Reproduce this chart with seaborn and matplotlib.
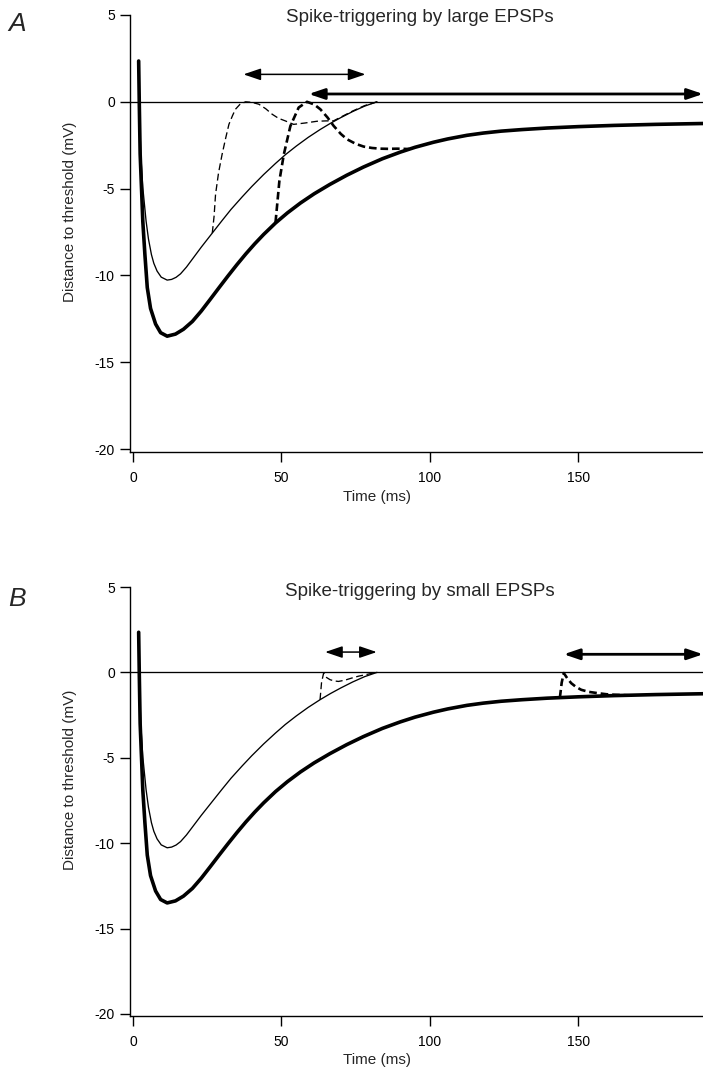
import matplotlib
matplotlib.use("Agg")
import matplotlib.pyplot as plt
import seaborn as sns
from matplotlib.patches import ArrowStyle

# ---------------- data ----------------
# control trajectories (same in both panels): distance to threshold (mV) vs time (ms)
thick_t = [1.9, 2.1, 2.4, 2.85, 3.3, 4.0, 4.8, 5.9, 7.6, 9.3, 11.5, 14.3, 17, 20, 23, 26, 29,
           32, 35, 38, 41, 44, 48, 52, 56.4, 61, 66.3, 72, 77.6, 84, 90, 95, 101.2, 106,
           112.5, 118, 124, 131, 139.5, 150, 162, 176, 192]
thick_v = [2.35, 0.0, -3.0, -4.95, -6.9, -8.8, -10.7, -11.9, -12.8, -13.3, -13.5, -13.38, -13.1,
           -12.65, -12.05, -11.38, -10.7, -10.03, -9.38, -8.76, -8.18, -7.64, -6.98, -6.4,
           -5.83, -5.3, -4.76, -4.23, -3.76, -3.28, -2.9, -2.62, -2.33, -2.14, -1.93, -1.8,
           -1.69, -1.6, -1.51, -1.43, -1.36, -1.3, -1.25]

thin_t = [1.9, 2.1, 2.6, 3.3, 4.4, 5.2, 6.2, 7.0, 8.1, 9.5, 11.5, 13, 14.5, 16, 18, 20, 23,
          26.7, 30, 33, 36.8, 40, 44, 48, 51.3, 55, 59, 63, 66.5, 70, 74, 78, 82.2]
thin_v = [2.35, 0.0, -3.0, -4.95, -6.87, -7.9, -8.8, -9.3, -9.75, -10.1, -10.27, -10.23, -10.11,
          -9.91, -9.52, -9.06, -8.37, -7.56, -6.84, -6.2, -5.47, -4.88, -4.19, -3.55, -3.05,
          -2.55, -2.05, -1.6, -1.24, -0.91, -0.56, -0.25, 0.0]

# threshold line
threshold = 0.0

# Panel A: large EPSPs
a_thin_dash_t = [26.7, 27.3, 27.8, 28.8, 30, 31.2, 32.3, 33.5, 34.5, 36, 37.9, 40, 42.4, 44.7,
                 46.9, 49, 51.3, 54.1, 58, 62, 65, 67.5, 70, 74, 78, 82.2]
a_thin_dash_v = [-7.56, -6.6, -5.33, -4.1, -3.03, -2.1, -1.3, -0.8, -0.43, -0.15, 0.0, -0.03,
                 -0.14, -0.4, -0.72, -0.95, -1.1, -1.3, -1.22, -1.12, -1.1, -1.1, -0.88, -0.53,
                 -0.22, 0.0]
a_thick_dash_t = [48, 49.3, 50.8, 53, 55.8, 58.6, 61, 63.1, 65.5, 67.6, 70, 72.1, 75, 77.7,
                  80.5, 83.3, 86, 89, 93]
a_thick_dash_v = [-6.95, -4.56, -3.03, -1.4, -0.33, 0.0, -0.15, -0.43, -0.9, -1.39, -1.85,
                  -2.16, -2.42, -2.58, -2.66, -2.7, -2.71, -2.7, -2.72]
a_thin_arrow = (37.2, 78.3, 1.58)     # start, end, level
a_thick_arrow = (59.2, 192.0, 0.45)

# Panel B: small EPSPs
b_thin_dash_t = [63, 63.5, 64.2, 65.2, 66.4, 67.8, 69.2, 71.5, 73.7, 76, 78.2, 80, 82.2]
b_thin_dash_v = [-1.6, -0.6, -0.04, -0.3, -0.43, -0.5, -0.53, -0.45, -0.33, -0.22, -0.14,
                 -0.07, 0.0]
b_thick_dash_t = [143.8, 144.4, 145.1, 146.3, 147.6, 149.2, 151, 153.5, 156.7, 159.5, 162.2,
                  165, 168]
b_thick_dash_v = [-1.47, -0.6, -0.04, -0.35, -0.63, -0.85, -1.02, -1.14, -1.22, -1.28, -1.31,
                  -1.33, -1.35]
b_thin_arrow = (64.7, 82.1, 1.19)
b_thick_arrow = (145.1, 192.0, 1.06)

xticks = [0, 50, 100, 150]
yticks = [5, 0, -5, -10, -15, -20]
titles = ["Spike-triggering by large EPSPs", "Spike-triggering by small EPSPs"]
letters = ["A", "B"]
xlabel = "Time (ms)"
ylabel = "Distance to threshold (mV)"

# ---------------- style ----------------
sns.set_style("ticks")
plt.rcParams['font.family'] = ['Liberation Sans', 'DejaVu Sans']
plt.rcParams['lines.scale_dashes'] = False
plt.rcParams['axes.linewidth'] = 1.0
plt.rcParams['axes.unicode_minus'] = False

fig = plt.figure(figsize=(7.03, 10.74), dpi=100)
axA = fig.add_axes([0.185, 0.57868, 0.815, 0.40736])
axB = fig.add_axes([0.185, 0.05354, 0.815, 0.39990])

THIN = 0.95
THICK = 2.6
THICKDASH = 1.9


def arrow(ax, spec, lw, ms):
    x0, x1, y = spec
    style = ArrowStyle('<|-|>', head_length=1.0, head_width=0.34)
    ax.annotate('', xy=(x1, y), xytext=(x0, y),
                arrowprops=dict(arrowstyle=style, lw=lw, color='black',
                                shrinkA=0, shrinkB=0, mutation_scale=ms),
                annotation_clip=False)


def panel(ax, ylim, thin_dash, thick_dash, thin_arr, thick_arr, title, letter, title_y, letter_y):
    ax.axhline(threshold, color='black', lw=THIN)
    sns.lineplot(x=thin_t, y=thin_v, ax=ax, color='black', lw=THIN, sort=False, estimator=None)
    sns.lineplot(x=thick_t, y=thick_v, ax=ax, color='black', lw=THICK, sort=False, estimator=None)
    sns.lineplot(x=thin_dash[0], y=thin_dash[1], ax=ax, color='black', lw=THIN, sort=False,
                 estimator=None, linestyle=(0, (5, 2.6)))
    sns.lineplot(x=thick_dash[0], y=thick_dash[1], ax=ax, color='black', lw=THICKDASH,
                 sort=False, estimator=None, linestyle=(0, (5.5, 2.8)))
    arrow(ax, thin_arr, 1.1, 10.5)
    arrow(ax, thick_arr, 2.0, 9.5)

    ax.set_xlim(-1, 192)
    ax.set_ylim(*ylim)
    ax.set_xticks(xticks)
    ax.set_yticks(yticks)
    ax.tick_params(axis='both', direction='out', length=7, width=1.0, labelsize=10,
                   colors='black', pad=4)
    ax.tick_params(axis='x', pad=6)
    sns.despine(ax=ax)
    ax.spines['left'].set_color('black')
    ax.spines['bottom'].set_color('black')
    ax.set_xlabel(xlabel, fontsize=11)
    ax.set_ylabel(ylabel, fontsize=11)
    ax.xaxis.set_label_coords(0.431, -0.085)
    ax.yaxis.set_label_coords(-0.093, 0.55)
    fig.text(0.597, title_y, title, ha='center', va='center', fontsize=13.5)
    fig.text(0.012, letter_y, letter, ha='left', va='center', fontsize=19, style='italic')


panel(axA, (-20.2, 5), (a_thin_dash_t, a_thin_dash_v), (a_thick_dash_t, a_thick_dash_v),
      a_thin_arrow, a_thick_arrow, titles[0], letters[0], 1 - 18 / 1074, 1 - 24 / 1074)
panel(axB, (-20.15, 5), (b_thin_dash_t, b_thin_dash_v), (b_thick_dash_t, b_thick_dash_v),
      b_thin_arrow, b_thick_arrow, titles[1], letters[1], 1 - 592 / 1074, 1 - 599 / 1074)

fig.savefig("out.png", dpi=100)
